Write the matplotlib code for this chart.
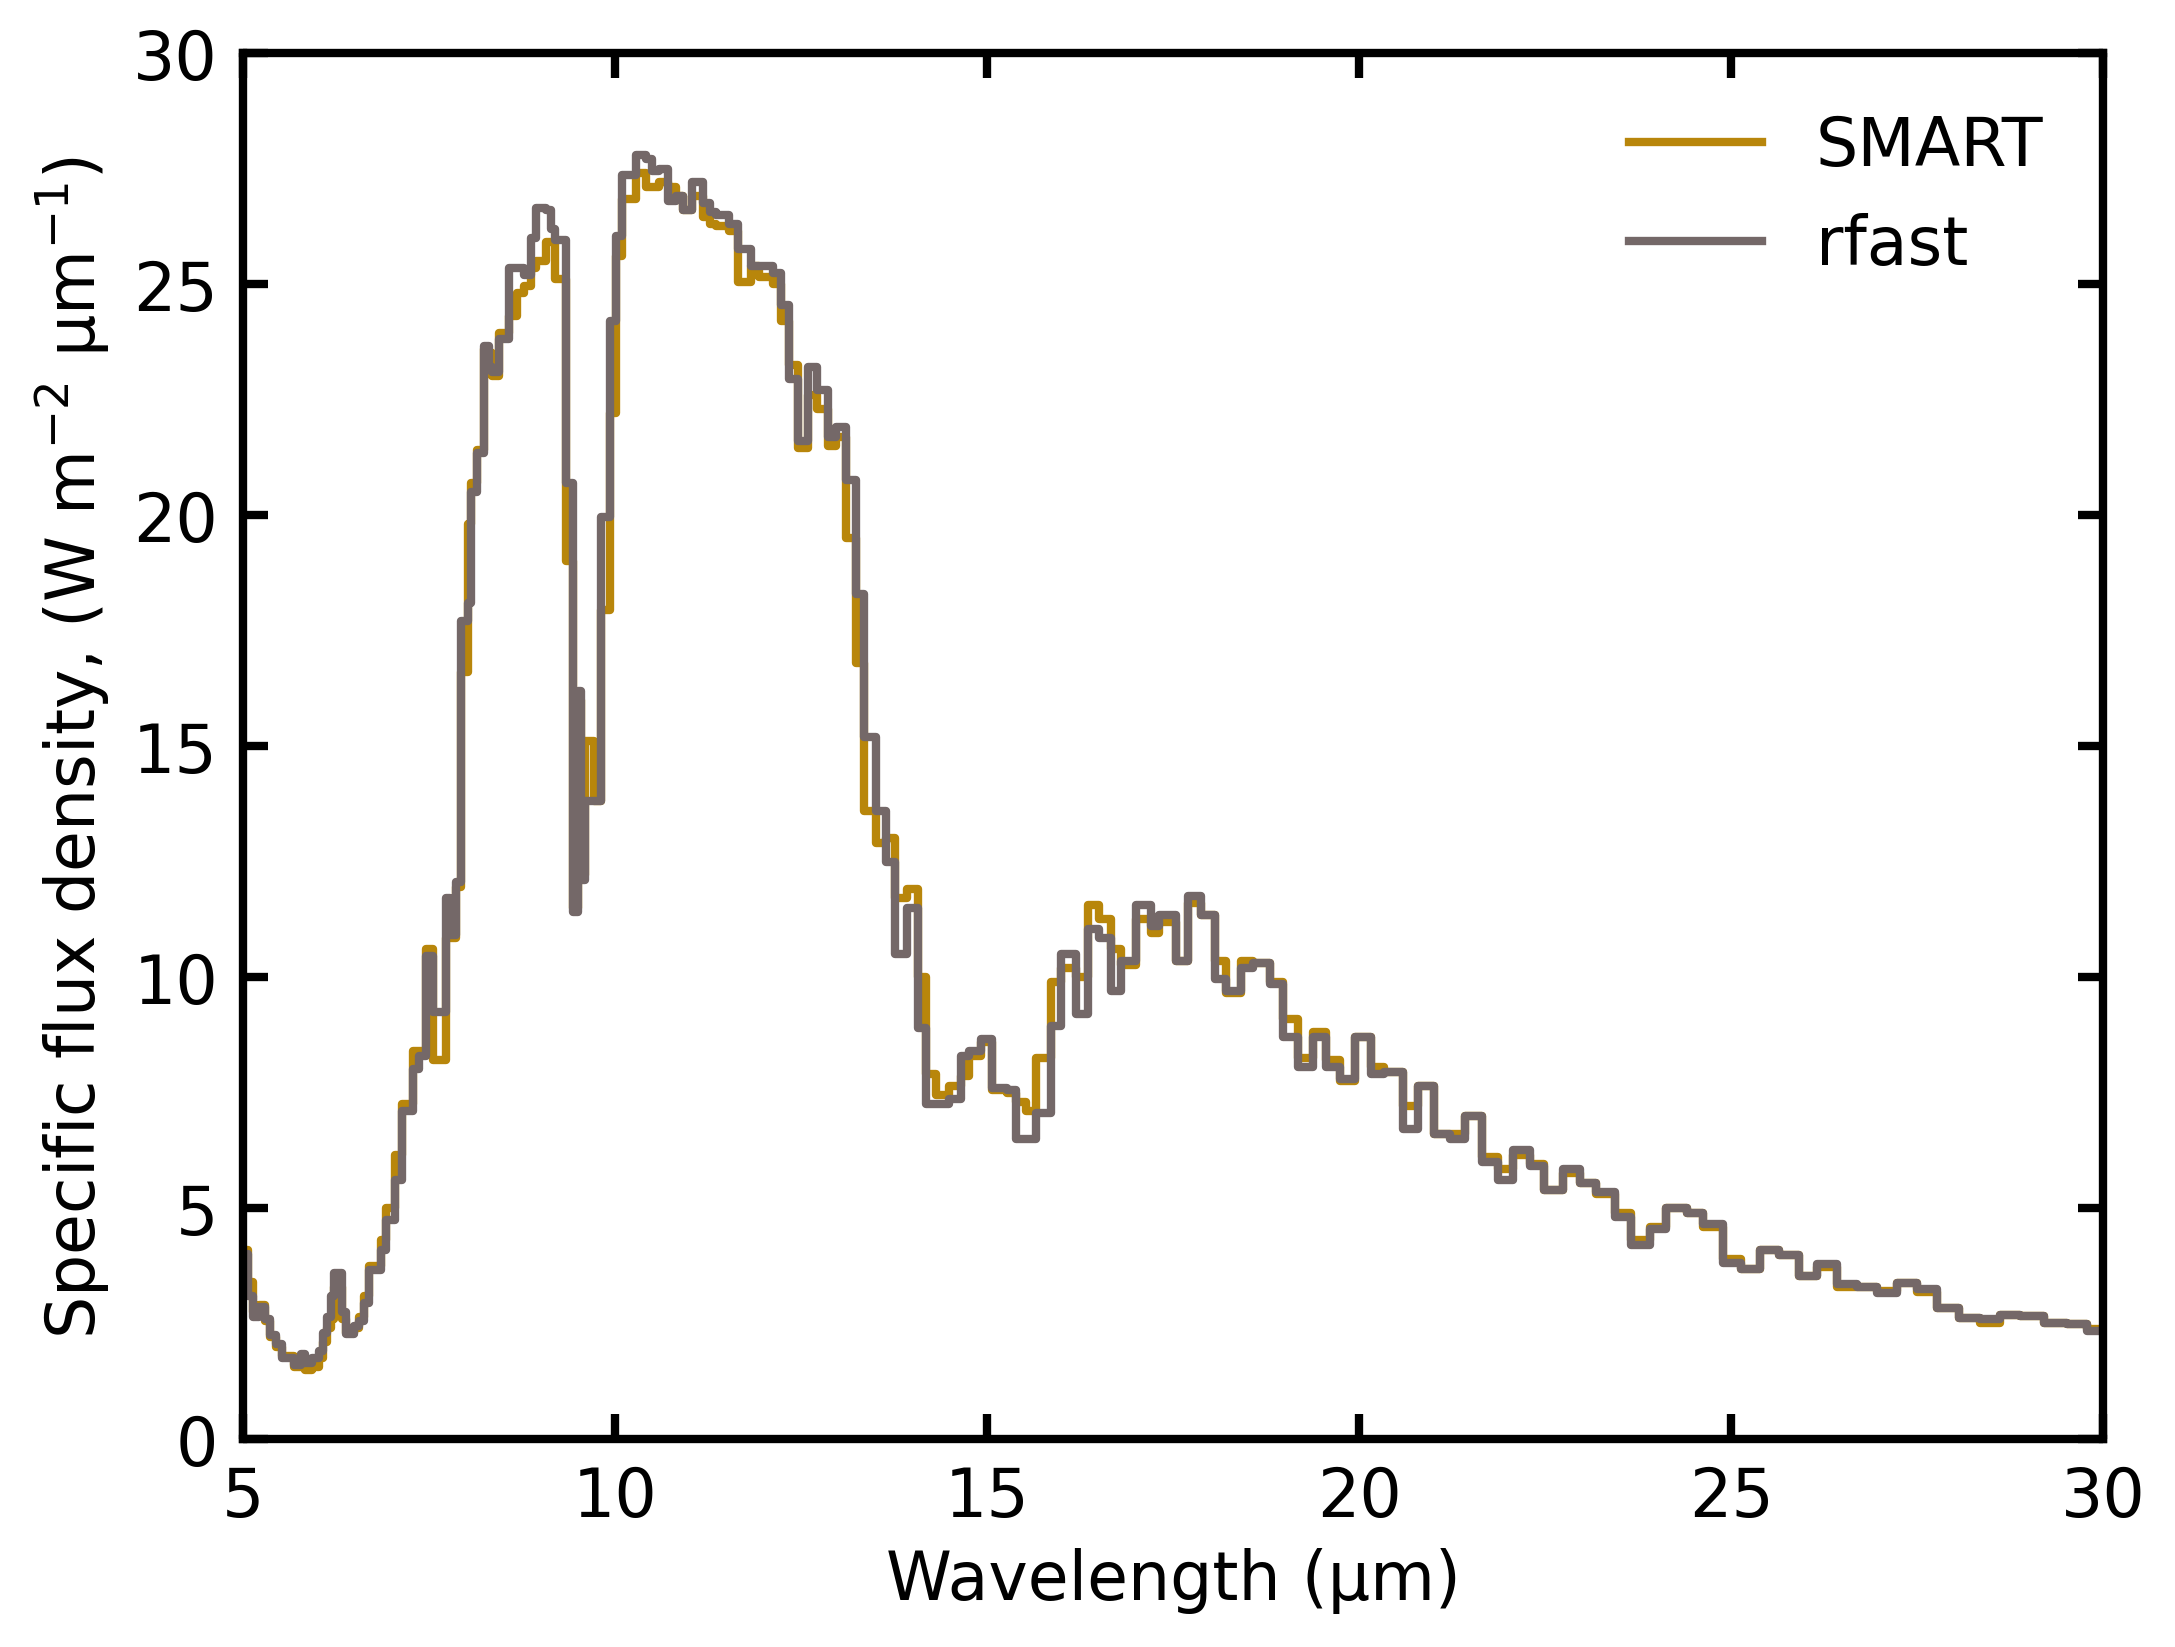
import matplotlib
matplotlib.use("Agg")
import matplotlib.pyplot as plt
import numpy as np

# Bin edges (micron)
bin_edges = [
    5.00, 5.07, 5.13, 5.22, 5.30, 5.37, 5.45, 5.53, 5.69, 5.78,
    5.84, 5.93, 6.02, 6.07, 6.13, 6.18, 6.22, 6.33, 6.38, 6.49,
    6.56, 6.63, 6.69, 6.85, 6.92, 7.05, 7.14, 7.28, 7.36, 7.46,
    7.55, 7.73, 7.78, 7.86, 7.93, 8.02, 8.07, 8.15, 8.24, 8.30,
    8.35, 8.44, 8.58, 8.68, 8.78, 8.87, 8.94, 9.07, 9.14, 9.20,
    9.34, 9.43, 9.50, 9.54, 9.60, 9.65, 9.72, 9.81, 9.93, 10.02,
    10.10, 10.28, 10.41, 10.50, 10.59, 10.71, 10.82, 10.91, 11.04, 11.18,
    11.27, 11.36, 11.53, 11.65, 11.83, 11.94, 12.12, 12.23, 12.34, 12.46,
    12.59, 12.72, 12.86, 12.97, 13.10, 13.24, 13.35, 13.51, 13.64, 13.76,
    13.93, 14.07, 14.18, 14.32, 14.49, 14.65, 14.76, 14.92, 15.07, 15.27,
    15.39, 15.52, 15.66, 15.86, 16.00, 16.20, 16.36, 16.50, 16.67, 16.80,
    17.00, 17.20, 17.31, 17.54, 17.70, 17.88, 18.06, 18.21, 18.41, 18.57,
    18.80, 18.98, 19.18, 19.38, 19.56, 19.74, 19.94, 20.16, 20.34, 20.59,
    20.79, 21.00, 21.22, 21.42, 21.65, 21.87, 22.07, 22.29, 22.49, 22.74,
    22.97, 23.19, 23.44, 23.66, 23.91, 24.13, 24.40, 24.62, 24.89, 25.13,
    25.39, 25.64, 25.91, 26.15, 26.42, 26.69, 26.96, 27.23, 27.50, 27.77,
    28.06, 28.35, 28.61, 28.88, 29.20, 29.51, 29.78, 30.00,
]

rfast_flux = [
    4.0, 3.1, 2.65, 2.85, 2.6, 2.25, 2.05, 1.75, 1.6, 1.85,
    1.65, 1.75, 1.9, 2.3, 2.65, 3.1, 3.6, 2.75, 2.27, 2.45,
    2.55, 2.95, 3.65, 4.1, 4.75, 5.6, 7.1, 8.0, 8.3, 10.45,
    9.25, 11.7, 10.9, 12.05, 17.7, 18.1, 20.5, 21.35, 23.65, 23.2,
    23.1, 23.8, 25.35, 25.35, 25.2, 26.0, 26.65, 26.6, 26.2, 25.95,
    20.7, 11.4, 16.2, 12.1, 13.8, 13.8, 13.8, 19.95, 24.2, 26.05,
    27.35, 27.8, 27.7, 27.45, 27.5, 26.8, 26.9, 26.6, 27.2, 26.75,
    26.55, 26.5, 26.3, 25.75, 25.4, 25.4, 25.25, 24.55, 22.95, 21.6,
    23.2, 22.7, 21.7, 21.9, 20.75, 18.3, 15.2, 13.6, 12.5, 10.5,
    11.5, 8.9, 7.25, 7.25, 7.35, 8.3, 8.4, 8.65, 7.6, 7.55,
    6.5, 6.5, 7.05, 8.95, 10.5, 9.2, 11.05, 10.85, 9.7, 10.35,
    11.55, 11.1, 11.35, 10.35, 11.75, 11.35, 9.95, 9.7, 10.2, 10.3,
    9.85, 8.7, 8.05, 8.7, 8.05, 7.8, 8.7, 7.9, 7.95, 6.7,
    7.65, 6.6, 6.5, 7.0, 6.0, 5.6, 6.25, 5.9, 5.4, 5.85,
    5.55, 5.35, 4.8, 4.2, 4.55, 5.0, 4.9, 4.65, 3.8, 3.67,
    4.1, 3.98, 3.53, 3.78, 3.35, 3.28, 3.16, 3.38, 3.24, 2.84,
    2.62, 2.59, 2.69, 2.66, 2.52, 2.48, 2.34,
]

smart_flux = [
    4.1, 3.4, 2.75, 2.9, 2.55, 2.2, 2.0, 1.8, 1.55, 1.6,
    1.5, 1.55, 1.75, 2.1, 2.4, 2.6, 3.3, 2.6, 2.3, 2.4,
    2.65, 3.1, 3.75, 4.3, 5.0, 6.15, 7.25, 8.4, 8.4, 10.6,
    8.2, 10.85, 10.85, 11.95, 16.6, 19.8, 20.7, 21.4, 23.6, 23.5,
    23.0, 23.95, 24.3, 24.8, 24.95, 25.35, 25.5, 25.9, 25.9, 25.1,
    19.0, 11.5, 16.0, 12.2, 15.1, 15.1, 13.8, 17.95, 22.2, 25.6,
    26.85, 27.4, 27.1, 27.1, 27.2, 27.1, 26.9, 26.6, 26.9, 26.45,
    26.3, 26.25, 26.15, 25.05, 25.4, 25.15, 25.0, 24.2, 23.25, 21.45,
    22.6, 22.3, 21.5, 21.7, 19.5, 16.8, 13.6, 12.9, 13.0, 11.7,
    11.9, 10.0, 7.9, 7.45, 7.65, 7.85, 8.3, 8.6, 7.55, 7.5,
    7.3, 7.1, 8.25, 9.9, 10.2, 10.0, 11.55, 11.25, 10.6, 10.25,
    11.25, 10.95, 11.2, 10.35, 11.6, 11.35, 10.35, 9.65, 10.35, 10.3,
    9.9, 9.1, 8.25, 8.8, 8.2, 7.75, 8.7, 8.05, 7.95, 7.2,
    7.65, 6.6, 6.6, 7.0, 6.1, 5.85, 6.15, 5.95, 5.4, 5.75,
    5.55, 5.3, 4.9, 4.3, 4.6, 5.0, 4.9, 4.6, 3.9, 3.67,
    4.1, 3.98, 3.53, 3.72, 3.28, 3.28, 3.2, 3.38, 3.18, 2.84,
    2.62, 2.52, 2.69, 2.66, 2.52, 2.48, 2.38,
]

x_ticks = [5, 10, 15, 20, 25, 30]
y_ticks = [0, 5, 10, 15, 20, 25, 30]

plt.rcParams['font.family'] = ['DejaVu Sans']
plt.rcParams['font.size'] = 16

fig = plt.figure(figsize=(7.25, 5.4933), dpi=300)
ax = fig.add_axes([0.1117, 0.1262, 0.8553, 0.8410])

ax.step(bin_edges, smart_flux + [smart_flux[-1]], where='post',
        color='#B8860B', lw=2.0, label='SMART')
ax.step(bin_edges, rfast_flux + [rfast_flux[-1]], where='post',
        color='#746868', lw=2.0, label='rfast')

ax.set_xlim(5, 30)
ax.set_ylim(0, 30)
ax.set_xticks(x_ticks)
ax.set_yticks(y_ticks)
ax.tick_params(direction='in', length=6, width=2, top=True, right=True, labelsize=16, pad=6)
for s in ax.spines.values():
    s.set_linewidth(2)

ax.set_xlabel('Wavelength (µm)', fontsize=16, labelpad=4)
ax.set_ylabel('Specific flux density, (W m$^{-2}$ µm$^{-1}$)', fontsize=16, labelpad=5)

ax.legend(loc='upper right', frameon=False, fontsize=16)

fig.savefig('out.png', dpi=300)
